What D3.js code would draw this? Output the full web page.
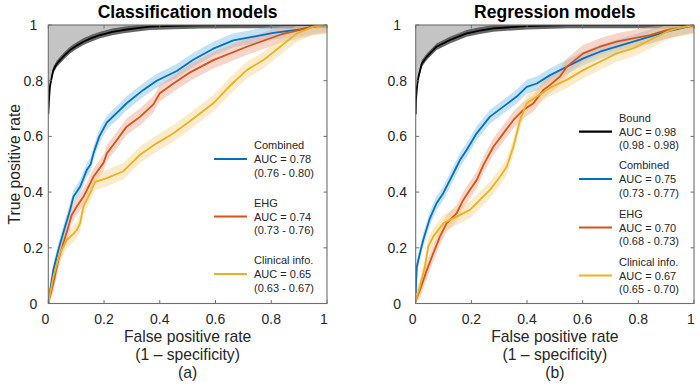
<!DOCTYPE html>
<html><head><meta charset="utf-8">
<script src="https://cdn.jsdelivr.net/npm/d3@7"></script>
<style>body{margin:0;background:#fff;} text{font-family:"Liberation Sans",Arial,sans-serif;fill:#262626;}</style>
</head><body>
<svg id="c" width="700" height="387"></svg>
<script>
// ---------- data ----------
const panelTitles = ["Classification models", "Regression models"];
const panelTags = ["(a)", "(b)"];
const ticks = [0, 0.2, 0.4, 0.6, 0.8, 1];
const tickLabels = ["0", "0.2", "0.4", "0.6", "0.8", "1"];
const seriesNames = ["Bound", "Combined", "EHG", "Clinical info."];
const seriesColors = ["#000000", "#0072BD", "#D95319", "#EDB120"];
const bandColors = ["#555555", "#7fbde6", "#eea58a", "#f5d58a"];
const bandHalf = [0.012, 0.025, 0.03, 0.03];

// Classification (a)
const aBoundX = [0, 0.003, 0.006, 0.012, 0.018, 0.03, 0.042, 0.06, 0.078, 0.1, 0.126, 0.155, 0.186, 0.23, 0.269, 0.32, 0.365, 0.45, 0.55, 0.7, 1];
const aBoundY = [0.68, 0.74, 0.78, 0.81, 0.838, 0.86, 0.874, 0.893, 0.91, 0.925, 0.94, 0.953, 0.964, 0.975, 0.982, 0.989, 0.994, 0.997, 0.999, 1, 1];
const aCombX = [0, 0.01, 0.018, 0.036, 0.06, 0.078, 0.09, 0.114, 0.138, 0.152, 0.162, 0.183, 0.21, 0.257, 0.281, 0.341, 0.389, 0.461, 0.52, 0.592, 0.664, 0.736, 0.808, 0.904, 0.951, 1];
const aCombY = [0, 0.07, 0.12, 0.192, 0.276, 0.336, 0.383, 0.419, 0.479, 0.5, 0.539, 0.6, 0.65, 0.695, 0.719, 0.767, 0.8, 0.835, 0.875, 0.915, 0.945, 0.958, 0.972, 0.984, 0.994, 1];
const aEhgX = [0, 0.018, 0.036, 0.054, 0.072, 0.084, 0.102, 0.126, 0.162, 0.198, 0.21, 0.246, 0.281, 0.33, 0.377, 0.4, 0.449, 0.509, 0.592, 0.712, 0.832, 0.951, 1];
const aEhgY = [0, 0.073, 0.156, 0.216, 0.276, 0.318, 0.348, 0.383, 0.455, 0.505, 0.539, 0.587, 0.635, 0.671, 0.715, 0.755, 0.79, 0.83, 0.874, 0.922, 0.965, 0.994, 1];
const aClinX = [0, 0.018, 0.042, 0.066, 0.09, 0.102, 0.114, 0.126, 0.15, 0.168, 0.21, 0.269, 0.33, 0.389, 0.449, 0.509, 0.592, 0.65, 0.712, 0.772, 0.832, 0.892, 0.951, 1];
const aClinY = [0, 0.096, 0.18, 0.228, 0.25, 0.264, 0.288, 0.348, 0.396, 0.437, 0.45, 0.475, 0.535, 0.575, 0.611, 0.655, 0.719, 0.78, 0.838, 0.874, 0.922, 0.97, 0.994, 1];
const aLegendAUC = ["", "AUC = 0.78", "AUC = 0.74", "AUC = 0.65"];
const aLegendCI = ["", "(0.76 - 0.80)", "(0.73 - 0.76)", "(0.63 - 0.67)"];

// Regression (b)
const bBoundX = [0, 0.001, 0.005, 0.01, 0.022, 0.04, 0.075, 0.123, 0.183, 0.23, 0.279, 0.4, 0.55, 1];
const bBoundY = [0.68, 0.731, 0.78, 0.814, 0.862, 0.886, 0.922, 0.946, 0.97, 0.98, 0.988, 0.996, 1, 1];
const bCombX = [0, 0.004, 0.015, 0.027, 0.051, 0.075, 0.099, 0.123, 0.147, 0.159, 0.183, 0.219, 0.267, 0.315, 0.363, 0.399, 0.435, 0.483, 0.543, 0.602, 0.662, 0.722, 0.782, 0.842, 0.902, 1];
const bCombY = [0.037, 0.132, 0.18, 0.228, 0.306, 0.36, 0.396, 0.443, 0.491, 0.515, 0.551, 0.611, 0.671, 0.707, 0.743, 0.778, 0.79, 0.82, 0.85, 0.88, 0.904, 0.922, 0.94, 0.958, 0.976, 1];
const bEhgX = [0, 0.015, 0.04, 0.063, 0.087, 0.111, 0.147, 0.171, 0.195, 0.219, 0.243, 0.279, 0.315, 0.351, 0.387, 0.423, 0.459, 0.483, 0.518, 0.543, 0.602, 0.662, 0.722, 0.782, 0.842, 0.902, 1];
const bEhgY = [0.01, 0.048, 0.12, 0.18, 0.24, 0.288, 0.324, 0.372, 0.408, 0.443, 0.497, 0.563, 0.611, 0.659, 0.695, 0.719, 0.767, 0.785, 0.814, 0.85, 0.898, 0.922, 0.94, 0.952, 0.964, 0.982, 1];
const bClinX = [0, 0.015, 0.033, 0.045, 0.063, 0.099, 0.147, 0.195, 0.231, 0.267, 0.303, 0.327, 0.351, 0.375, 0.399, 0.435, 0.483, 0.543, 0.602, 0.662, 0.722, 0.782, 0.842, 0.902, 0.938, 1];
const bClinY = [0.01, 0.06, 0.132, 0.204, 0.24, 0.288, 0.312, 0.336, 0.372, 0.408, 0.455, 0.491, 0.563, 0.659, 0.719, 0.743, 0.775, 0.803, 0.838, 0.868, 0.898, 0.916, 0.946, 0.976, 0.988, 1];
const bLegendAUC = ["AUC = 0.98", "AUC = 0.75", "AUC = 0.70", "AUC = 0.67"];
const bLegendCI = ["(0.98 - 0.98)", "(0.73 - 0.77)", "(0.68 - 0.73)", "(0.65 - 0.70)"];

// ---------- drawing ----------
const svg = d3.select("#c");
const panels = [
  {x0: 48.3, x1: 327, title: panelTitles[0], tag: panelTags[0], ylabel: true,
   series: [[aBoundX, aBoundY], [aCombX, aCombY], [aEhgX, aEhgY], [aClinX, aClinY]],
   legend: {show: [1, 2, 3], lx: 214, mids: [0, 159, 216.5, 274], auc: aLegendAUC, ci: aLegendCI}, tickLabelOff: 15},
  {x0: 415.7, x1: 694, title: panelTitles[1], tag: panelTags[1], ylabel: false,
   series: [[bBoundX, bBoundY], [bCombX, bCombY], [bEhgX, bEhgY], [bClinX, bClinY]],
   legend: {show: [0, 1, 2, 3], lx: 579, mids: [131.7, 179, 227.5, 275.5], auc: bLegendAUC, ci: bLegendCI}, tickLabelOff: 18.5}
];
const yTop = 25, yBot = 303.5;

panels.forEach(p => {
  const x = d3.scaleLinear().domain([0, 1]).range([p.x0, p.x1]);
  const y = d3.scaleLinear().domain([0, 1]).range([yBot, yTop]);
  const g = svg.append("g");
  const clip = "clip" + Math.round(p.x0);
  svg.append("clipPath").attr("id", clip).append("rect")
    .attr("x", p.x0).attr("y", yTop).attr("width", p.x1 - p.x0).attr("height", yBot - yTop);
  const pg = g.append("g").attr("clip-path", `url(#${clip})`);

  const pts = p.series.map(([xs, ys]) => xs.map((v, i) => [v, ys[i]]));

  // gray area above bound curve
  const bound = pts[0];
  const areaPts = bound.concat([[0, 1]]);
  pg.append("path")
    .attr("d", d3.line().x(d => x(d[0])).y(d => y(d[1]))(areaPts) + "Z")
    .attr("fill", "#c4c4c4").attr("stroke", "none");

  // bands
  pts.forEach((s, k) => {
    const area = d3.area()
      .x(d => x(d[0]))
      .y0(d => y(Math.max(0, d[1] - bandHalf[k])))
      .y1(d => y(Math.min(1, d[1] + bandHalf[k])));
    pg.append("path").attr("d", area(s))
      .attr("fill", bandColors[k]).attr("fill-opacity", k === 0 ? 0.9 : 0.45);
  });
  // lines
  pts.forEach((s, k) => {
    pg.append("path").attr("d", d3.line().x(d => x(d[0])).y(d => y(d[1]))(s))
      .attr("fill", "none").attr("stroke", seriesColors[k])
      .attr("stroke-width", k === 0 ? 1.8 : 1.8).attr("stroke-linejoin", "round");
  });

  // box
  g.append("rect").attr("x", p.x0).attr("y", yTop).attr("width", p.x1 - p.x0).attr("height", yBot - yTop)
    .attr("fill", "none").attr("stroke", "#6e6e6e").attr("stroke-width", 1.1);
  // ticks inward, all four sides
  const tl = 3.5;
  ticks.forEach((t, i) => {
    g.append("line").attr("x1", x(t)).attr("x2", x(t)).attr("y1", yBot).attr("y2", yBot - tl).attr("stroke", "#6e6e6e");
    g.append("line").attr("x1", x(t)).attr("x2", x(t)).attr("y1", yTop).attr("y2", yTop + tl).attr("stroke", "#6e6e6e");
    g.append("line").attr("y1", y(t)).attr("y2", y(t)).attr("x1", p.x0).attr("x2", p.x0 + tl).attr("stroke", "#6e6e6e");
    g.append("line").attr("y1", y(t)).attr("y2", y(t)).attr("x1", p.x1).attr("x2", p.x1 - tl).attr("stroke", "#6e6e6e");
    g.append("text").attr("x", x(t) - (tickLabels[i].length === 1 ? 3 : 0)).attr("y", 318.5)
      .attr("text-anchor", "middle").attr("dominant-baseline", "central")
      .style("font-size", "14px").text(tickLabels[i]);
    g.append("text").attr("x", p.x0 - p.tickLabelOff).attr("y", y(t))
      .attr("text-anchor", "middle").attr("dominant-baseline", "central")
      .style("font-size", "14px").text(tickLabels[i]);
  });

  const cx = (p.x0 + p.x1) / 2;
  g.append("text").attr("x", cx).attr("y", 12).attr("text-anchor", "middle").attr("dominant-baseline", "central")
    .style("font-size", "17.5px").style("font-weight", "bold").style("fill", "#000").text(p.title);
  g.append("text").attr("x", cx).attr("y", 336.7).attr("text-anchor", "middle").attr("dominant-baseline", "central")
    .style("font-size", "15.7px").text("False positive rate");
  g.append("text").attr("x", cx).attr("y", 354.2).attr("text-anchor", "middle").attr("dominant-baseline", "central")
    .style("font-size", "15.7px").text("(1 \u2013 specificity)");
  g.append("text").attr("x", cx).attr("y", 372).attr("text-anchor", "middle").attr("dominant-baseline", "central")
    .style("font-size", "15.7px").text(p.tag);
  if (p.ylabel) {
    g.append("text").attr("transform", `translate(14,${(yTop + yBot) / 2}) rotate(-90)`)
      .attr("text-anchor", "middle").attr("dominant-baseline", "central")
      .style("font-size", "15.7px").text("True positive rate");
  }

  // legend
  const L = p.legend;
  L.show.forEach(k => {
    const m = L.mids[k];
    g.append("line").attr("x1", L.lx).attr("x2", L.lx + 33).attr("y1", m).attr("y2", m)
      .attr("stroke", seriesColors[k]).attr("stroke-width", 2.2);
    [seriesNames[k], L.auc[k], L.ci[k]].forEach((s, j) => {
      g.append("text").attr("x", L.lx + 40).attr("y", m + (j - 1) * 13.6)
        .attr("dominant-baseline", "central").style("font-size", "11px").text(s);
    });
  });
});
</script>
</body></html>
